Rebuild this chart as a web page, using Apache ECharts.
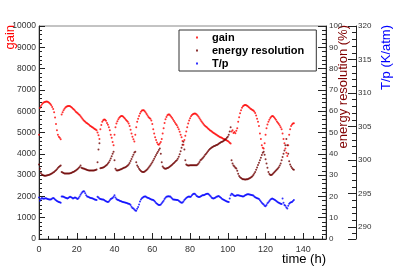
<!DOCTYPE html>
<html><head><meta charset="utf-8">
<script src="https://cdn.jsdelivr.net/npm/echarts@6/dist/echarts.min.js"></script>
<style>html,body{margin:0;padding:0;background:#fff;}#c{width:394px;height:266px;}</style>
</head><body><div id="c"></div>
<script>
var hours = [
0,0.5,1,1.5,2,2.5,3,3.5,4,4.5,
5,5.5,6,6.5,7,7.5,8,8.5,9,9.5,
10,10.5,11,11.5,12,12.5,13,13.5,14,14.5,
15,15.5,16,16.5,17,17.5,18,18.5,19,19.5,
20,20.5,21,21.5,22,22.5,23,23.5,24,24.5,
25,25.5,26,26.5,27,27.5,28,28.5,29,29.5,
30,30.5,31,31.5,32,32.5,33,33.5,34,34.5,
35,35.5,36,36.5,37,37.5,38,38.5,39,39.5,
40,40.5,41,41.5,42,42.5,43,43.5,44,44.5,
45,45.5,46,46.5,47,47.5,48,48.5,49,49.5,
50,50.5,51,51.5,52,52.5,53,53.5,54,54.5,
55,55.5,56,56.5,57,57.5,58,58.5,59,59.5,
60,60.5,61,61.5,62,62.5,63,63.5,64,64.5,
65,65.5,66,66.5,67,67.5,68,68.5,69,69.5,
70,70.5,71,71.5,72,72.5,73,73.5,74,74.5,
75,75.5,76,76.5,77,77.5,78,78.5,79,79.5,
80,80.5,81,81.5,82,82.5,83,83.5,84,84.5,
85,85.5,86,86.5,87,87.5,88,88.5,89,89.5,
90,90.5,91,91.5,92,92.5,93,93.5,94,94.5,
95,95.5,96,96.5,97,97.5,98,98.5,99,99.5,
100,100.5,101,101.5,102,102.5,103,103.5,104,104.5,
105,105.5,106,106.5,107,107.5,108,108.5,109,109.5,
110,110.5,111,111.5,112,112.5,113,113.5,114,114.5,
115,115.5,116,116.5,117,117.5,118,118.5,119,119.5,
120,120.5,121,121.5,122,122.5,123,123.5,124,124.5,
125,125.5,126,126.5,127,127.5,128,128.5,129,129.5,
130,130.5,131,131.5,132,132.5,133,133.5,134,134.5,
135];

var gain = [
4900,6150,6250,6320,6370,6410,6430,6445,6450,6440,
6420,6390,6340,6280,6200,6100,5950,5700,5400,5100,
4900,4800,4750,4680,5850,5950,6050,6120,6170,6210,
6230,6240,6240,6230,6200,6160,6120,6080,6030,5980,
5940,5900,5860,5820,5760,5700,5640,5590,5540,5500,
5460,5430,5400,5360,5320,5290,5260,5230,5200,5170,
5140,5110,5000,4870,4700,5150,5350,5500,5580,5610,
5600,5550,5450,5360,5250,5100,4900,4750,4550,4400,
4900,5250,5420,5530,5620,5690,5740,5770,5770,5750,
5710,5660,5600,5550,5500,5420,5300,5130,4950,4800,
4680,4580,4900,5250,5500,5650,5780,5890,5970,6030,
6050,6040,6000,5940,5870,5800,5730,5680,5640,5560,
5400,5150,4950,4780,4650,4530,4450,4430,4480,4550,
4700,4950,5200,5450,5620,5730,5810,5850,5840,5800,
5740,5680,5610,5540,5470,5400,5340,5250,5150,5030,
4900,4780,4600,4420,4650,4850,5050,5250,5420,5560,
5670,5760,5820,5860,5880,5890,5880,5850,5800,5740,
5670,5600,5530,5470,5410,5350,5310,5270,5230,5190,
5150,5110,5080,5050,5010,4980,4950,4920,4890,4860,
4830,4800,4780,4760,4740,4710,4690,4670,4650,4630,
4600,4560,4520,4480,5050,5100,4980,5020,4960,5080,
5200,5500,5720,5900,6050,6160,6230,6270,6290,6290,
6270,6240,6200,6160,6120,6090,6060,6030,5990,5920,
5800,5650,5500,5300,4950,4700,4400,4280,4250,4500,
4900,5200,5380,5500,5600,5680,5740,5770,5760,5720,
5660,5600,5520,5460,5400,5330,5250,5150,4950,4700,
4500,4250,4050,3900,4400,4900,5150,5300,5380,5420,
5430];

var resolution = [
35,33,31,30.3,30,29.8,29.7,29.7,29.8,29.9,
30,30.2,30.4,30.6,30.9,31.2,31.5,31.9,32.3,32.8,
33.3,33.8,34.2,34.5,31.5,31.2,31,30.8,30.7,30.7,
30.7,30.7,30.8,30.9,31,31.2,31.4,31.6,31.9,32.2,
32.5,32.9,33.3,33.8,34.5,33.5,33.2,33.1,33,32.8,
32.6,32.4,32.3,32.2,32.2,32.2,32.2,32.2,32.2,32.3,
32.4,32.6,36,42,45,33.2,33.3,33.4,33.6,33.8,
34.1,34.5,34.9,35.4,36,36.8,37.8,38.9,40,41,
37,33,32.3,32.2,32.3,32.4,32.6,32.8,33,33.2,
33.4,33.6,33.8,34.1,34.5,35,35.7,36.6,37.6,38.6,
39.6,40.6,41,36,34.5,33.8,33,32.4,31.9,31.6,
31.5,31.5,31.7,32,32.4,32.9,33.4,34,34.6,35.3,
36,36.8,37.7,38.6,39.4,40.2,41,41.8,42.5,40,
36,34,33.4,33.1,33,33.1,33.3,33.5,33.8,34.1,
34.5,34.9,35.3,35.7,36.2,36.6,37,37.7,38.6,39.8,
41.2,42.8,44.3,45.6,42,37,35,34.6,34.5,34.5,
34.6,34.6,34.6,34.6,34.6,34.6,34.6,34.6,35,35.5,
36.2,37,37.3,37.8,38.3,38.9,39.5,40,40.6,41.2,
41.8,42.3,42.6,42.9,43.2,43.5,43.7,43.9,44.1,44.3,
44.6,44.9,45.2,45.5,45.7,45.9,46.2,46.6,47,47.5,
48,49,50.5,52.5,37,35.5,34.5,34,33.5,33.1,
32,30.6,29.6,29,28.6,28.3,28.1,28,27.9,27.9,
28,28.1,28.3,28.5,28.8,29.1,29.5,30,30.7,31.5,
32.5,33.6,34.7,35.8,37,38.2,39.4,40.5,41,39.5,
37.5,35.5,33.5,31.5,30.5,30,30,30.3,30.7,31.2,
31.7,32.2,32.6,33.1,33.7,34.5,35.5,37,38.5,40,
41.5,44,47,44,40,36.5,35,34,33.3,32.8,
32.5];

var tOverP = [
294.40,293.92,294.18,294.31,294.24,294.21,294.24,294.27,294.24,294.18,
294.15,294.11,294.08,294.15,294.24,294.31,294.24,294.11,293.99,293.86,
293.80,293.73,293.67,293.61,294.56,294.56,294.50,294.43,294.37,294.31,
294.24,294.31,294.43,294.50,294.43,294.34,294.24,294.31,294.40,294.34,
294.24,294.18,294.31,294.56,294.81,295.04,295.20,295.32,295.29,295.04,
294.75,294.56,294.50,294.43,294.37,294.31,294.27,294.24,294.18,294.11,
294.05,294.02,294.50,294.40,294.24,294.18,294.15,294.11,294.08,294.02,
293.92,293.83,293.77,293.73,293.80,293.99,294.18,294.24,294.31,294.50,
294.72,294.40,294.18,294.05,294.02,293.96,293.89,293.83,293.77,293.73,
293.67,293.64,293.61,293.57,293.51,293.48,293.42,293.26,293.03,292.84,
292.75,292.59,292.46,292.40,292.72,292.97,293.35,293.80,294.11,294.27,
294.40,294.50,294.56,294.53,294.43,294.37,294.31,294.24,294.18,294.11,
294.05,294.02,293.92,293.77,293.57,293.45,293.35,293.29,293.26,293.35,
293.54,293.73,293.92,294.18,294.37,294.50,294.56,294.59,294.56,294.53,
294.40,294.24,294.11,294.08,294.05,294.05,294.02,294.02,293.92,293.80,
293.67,293.61,293.64,293.80,294.02,294.18,294.31,294.43,294.50,294.53,
294.46,294.56,294.75,294.88,294.94,294.97,294.81,294.62,294.53,294.46,
294.46,294.53,294.62,294.72,294.72,294.78,294.85,294.91,294.94,294.97,
294.85,294.69,294.53,294.37,294.27,294.24,294.31,294.40,294.50,294.56,
294.62,294.56,294.43,294.31,294.18,294.08,294.02,293.96,293.86,293.80,
293.77,293.73,294.24,294.72,294.97,294.88,294.75,294.66,294.62,294.69,
294.75,294.72,294.69,294.66,294.62,294.59,294.56,294.59,294.69,294.78,
294.85,294.88,294.88,294.85,294.81,294.78,294.72,294.69,294.56,294.43,
294.34,294.27,294.24,294.18,293.99,293.80,293.61,293.48,293.35,293.16,
293.10,293.29,293.54,293.70,293.86,294.05,294.18,294.24,294.18,294.08,
294.02,293.92,293.80,293.67,293.61,293.54,293.48,293.42,294.24,293.61,
293.29,293.16,292.91,292.75,293.16,293.48,293.61,293.67,293.73,293.86,
294.02];

var seriesNames = ['gain', 'energy resolution', 'T/p'];
var axisNames = ['gain', 'energy resolution (%)', 'T/p (K/atm)', 'time (h)'];

function pairs(vals) { return hours.map(function (h, i) { return [h, vals[i]]; }); }
function plain(v) { return String(v); }

var FONT = 'Liberation Sans, Arial, Helvetica, sans-serif';
var AX = '#222';
var chart = echarts.init(document.getElementById('c'), null, {renderer: 'canvas'});
chart.setOption({
  animation: false,
  backgroundColor: '#fff',
  grid: {left: 39, right: 68, top: 26, bottom: 27, show: true, borderColor: '#888', borderWidth: 1},
  legend: {
    orient: 'vertical', left: 179, top: 30, icon: 'rect', itemWidth: 2, itemHeight: 2, itemGap: 0,
    borderColor: '#333', borderWidth: 1, borderRadius: 0, padding: [1, 12, 1, 17],
    textStyle: {fontFamily: FONT, fontWeight: 'bold', fontSize: 11, color: '#000', lineHeight: 13, padding: [0, 0, 0, 9]},
    data: seriesNames
  },
  xAxis: {
    type: 'value', min: 0, max: 152, interval: 20,
    axisLine: {lineStyle: {color: AX}},
    axisTick: {inside: true, length: 6, lineStyle: {color: AX}},
    minorTick: {show: true, splitNumber: 4, length: 3, lineStyle: {color: AX}},
    axisLabel: {fontFamily: FONT, fontSize: 9, color: '#333', margin: 6, showMaxLabel: false},
    splitLine: {show: false}
  },
  yAxis: [{
    type: 'value', min: 0, max: 10000, interval: 1000, position: 'left',
    axisLine: {show: true, lineStyle: {color: AX}},
    axisTick: {inside: true, length: 6, lineStyle: {color: AX}},
    minorTick: {show: true, splitNumber: 5, length: 3, lineStyle: {color: AX}},
    axisLabel: {fontFamily: FONT, fontSize: 8.5, color: '#333', margin: 3, formatter: plain},
    splitLine: {show: false}
  }, {
    type: 'value', min: 0, max: 100, interval: 10, position: 'right',
    axisLine: {show: true, lineStyle: {color: AX}},
    axisTick: {inside: true, length: 8, lineStyle: {color: AX}},
    minorTick: {show: true, splitNumber: 5, length: 4, lineStyle: {color: AX}},
    axisLabel: {fontFamily: FONT, fontSize: 8, color: '#333', margin: 3},
    splitLine: {show: false}
  }, {
    type: 'value', min: 288.2, max: 320, position: 'right', offset: 30, splitNumber: 6,
    axisLine: {show: true, lineStyle: {color: AX}},
    axisTick: {inside: true, length: 8, lineStyle: {color: AX}},
    minorTick: {show: true, splitNumber: 5, length: 4, lineStyle: {color: AX}},
    axisLabel: {fontFamily: FONT, fontSize: 8, color: '#333', margin: 2, showMinLabel: false, formatter: plain},
    splitLine: {show: false}
  }],
  graphic: [
    {type: 'text', x: 10, y: 25, rotation: Math.PI / 2, style: {text: axisNames[0], fill: '#ff0000', font: '13px ' + FONT, align: 'right', verticalAlign: 'middle'}},
    {type: 'text', x: 343, y: 25, rotation: Math.PI / 2, style: {text: axisNames[1], fill: '#800000', font: '13px ' + FONT, align: 'right', verticalAlign: 'middle'}},
    {type: 'text', x: 386, y: 25, rotation: Math.PI / 2, style: {text: axisNames[2], fill: '#0000ff', font: '13px ' + FONT, align: 'right', verticalAlign: 'middle'}},
    {type: 'text', x: 326, y: 259, style: {text: axisNames[3], fill: '#000', font: '13px ' + FONT, align: 'right', verticalAlign: 'middle'}}
  ],
  series: [
    {name: seriesNames[0], type: 'scatter', yAxisIndex: 0, symbol: 'circle', symbolSize: 2, itemStyle: {color: '#ff0000'}, data: pairs(gain)},
    {name: seriesNames[1], type: 'scatter', yAxisIndex: 1, symbol: 'circle', symbolSize: 2, itemStyle: {color: '#6e0000'}, data: pairs(resolution)},
    {name: seriesNames[2], type: 'scatter', yAxisIndex: 2, symbol: 'circle', symbolSize: 2, itemStyle: {color: '#0000ff'}, data: pairs(tOverP)}
  ]
});
</script>
</body></html>
